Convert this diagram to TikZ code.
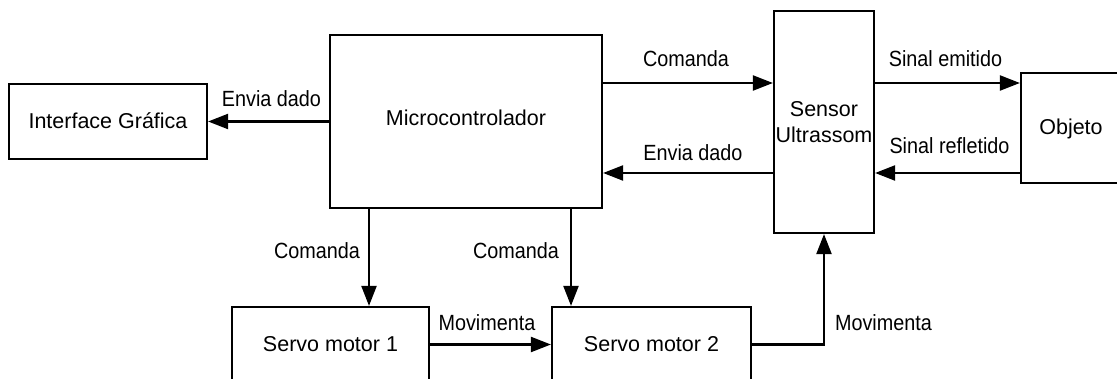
\documentclass[tikz,border=0pt]{standalone}
\usepackage{fontspec}
\setmainfont{Liberation Sans}
\newfontfamily\lblfont[FakeStretch=0.9]{Liberation Sans}
\usetikzlibrary{arrows.meta}
\tikzset{
  blockbox/.style={draw, line width=2.2pt, inner sep=0pt, align=center,
    font=\fontsize{21.5}{26}\selectfont, text height=14pt, text depth=0pt},
  arr/.style={line width=2.2pt, -{Triangle[length=20pt,width=15pt]}},
  lbl/.style={inner sep=0pt, anchor=base, font=\lblfont\fontsize{22}{26}\selectfont}
}
\begin{document}
\begin{tikzpicture}[x=1pt, y=-1pt]
\useasboundingbox (0,0) rectangle (1117,379);
\begin{scope}
\clip (0,0) rectangle (1117,379);
% blocks
\node[blockbox, minimum width=198pt, minimum height=75pt] (iface) at (108,121.5) {Interface Gráfica};
\node[blockbox, minimum width=272pt, minimum height=173pt] (micro) at (466,121.5) {\raisebox{3pt}{Microcontrolador}};
\node[blockbox, minimum width=100pt, minimum height=222pt, text height=] (sensor) at (824,122) {Sensor\\Ultrassom};
\node[blockbox, minimum width=104pt, minimum height=110pt] (objeto) at (1073,128) {\hspace*{-4pt}Objeto};
\node[blockbox, minimum width=197pt, minimum height=75pt] (servoa) at (330.5,344.5) {Servo motor 1};
\node[blockbox, minimum width=199pt, minimum height=75pt] (servob) at (651.5,344.5) {Servo motor 2};
\end{scope}
% helper levels
\coordinate (ytop) at (0,83);
\coordinate (ybot) at (0,173);
\coordinate (xa) at (369,0);
\coordinate (xb) at (571,0);
% connectors
\draw[arr] (micro.west) -- (iface.east);
\draw[arr] (micro.east |- ytop) -- (sensor.west |- ytop);
\draw[arr] (sensor.west |- ybot) -- (micro.east |- ybot);
\draw[arr] (sensor.east |- ytop) -- (objeto.west |- ytop);
\draw[arr] (objeto.west |- ybot) -- (sensor.east |- ybot);
\draw[arr] (micro.south -| xa) -- (servoa.north -| xa);
\draw[arr] (micro.south -| xb) -- (servob.north -| xb);
\draw[arr] (servoa.east) -- (servob.west);
\draw[arr] (servob.east) -| (sensor.south);
% labels
\node[lbl] (l1) at (271.5,107) {Envia dado};
\node[lbl] (l2) at (686,67) {Comanda};
\node[lbl] (l3) at (693,161) {Envia dado};
\node[lbl] (l4) at (945.5,67) {Sinal emitido};
\node[lbl] (l5) at (949.5,154) {Sinal refletido};
\node[lbl] (l6) at (317,259) {Comanda};
\node[lbl] (l7) at (516,259) {Comanda};
\node[lbl] (l8) at (487,331) {Movimenta};
\node[lbl] (l9) at (883.5,331) {Movimenta};
\end{tikzpicture}
\end{document}
